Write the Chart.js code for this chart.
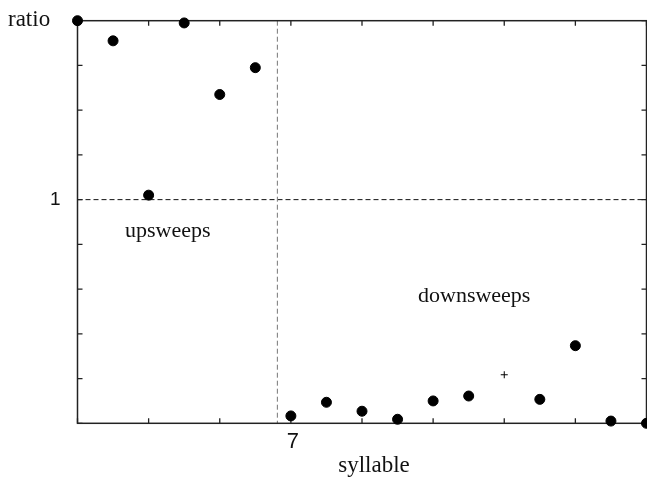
<!DOCTYPE html>
<html>
<head>
<meta charset="utf-8">
<script src="https://cdn.jsdelivr.net/npm/chart.js@4.4.0/dist/chart.umd.min.js"></script>
<style>
  html, body { margin: 0; padding: 0; background: #fff; overflow: hidden; }
  canvas { display: block; }
</style>
</head>
<body>
<canvas id="ratioChart" width="647" height="477"></canvas>
<script>
// syllable index and measured ratio
const syllables = [1, 2, 3, 4, 5, 6, 7, 8, 9, 10, 11, 12, 13, 14, 15, 16, 17];
const ratios = [1.80, 1.71, 1.02, 1.79, 1.47, 1.59, 0.033, 0.094, 0.054, 0.018, 0.10, 0.122, 0.217, 0.107, 0.347, 0.01, 0.0];
const markers = ['circle', 'circle', 'circle', 'circle', 'circle', 'circle', 'circle', 'circle', 'circle',
                 'circle', 'circle', 'circle', 'cross', 'circle', 'circle', 'circle', 'circle'];
const xTicks = [1, 3, 5, 7, 9, 11, 13, 15, 17];
const yTicks = [0, 0.2, 0.4, 0.6, 0.8, 1.0, 1.2, 1.4, 1.6, 1.8];
const xLabelled = [7];
const yLabelled = [1];
const splitSyllable = 6.62;
const splitRatio = 1;

const serif = '"Liberation Serif", "Times New Roman", serif';
const sans = '"Liberation Sans", Arial, sans-serif';

// frame, inward ticks, dashed split lines and text labels
const frame = {
  id: 'frame',
  beforeDatasetsDraw(chart) {
    const { ctx, chartArea: a, scales: { x, y } } = chart;
    ctx.save();
    // dashed lines
    ctx.lineWidth = 1;
    ctx.setLineDash([5, 3]);
    ctx.strokeStyle = '#111';
    const y1 = y.getPixelForValue(splitRatio);
    ctx.beginPath(); ctx.moveTo(a.left, y1); ctx.lineTo(a.right, y1); ctx.stroke();
    ctx.strokeStyle = '#777';
    const x1 = x.getPixelForValue(splitSyllable);
    ctx.beginPath(); ctx.moveTo(x1, a.top); ctx.lineTo(x1, a.bottom); ctx.stroke();
    ctx.setLineDash([]);

    // ticks on all four sides, pointing in
    ctx.strokeStyle = '#222';
    ctx.lineWidth = 1.3;
    const t = 5;
    ctx.beginPath();
    xTicks.forEach(v => {
      const px = x.getPixelForValue(v);
      ctx.moveTo(px, a.bottom); ctx.lineTo(px, a.bottom - t);
      ctx.moveTo(px, a.top); ctx.lineTo(px, a.top + t);
    });
    yTicks.forEach(v => {
      const py = y.getPixelForValue(v);
      ctx.moveTo(a.left, py); ctx.lineTo(a.left + t, py);
      ctx.moveTo(a.right, py); ctx.lineTo(a.right - t, py);
    });
    ctx.stroke();
    ctx.lineWidth = 1.5;
    ctx.strokeRect(a.left, a.top, a.right - a.left, a.bottom - a.top);

    // tick labels
    ctx.fillStyle = '#111';
    ctx.font = '19px ' + sans;
    ctx.textAlign = 'right';
    ctx.textBaseline = 'middle';
    yLabelled.forEach(v => ctx.fillText(String(v), a.left - 17, y.getPixelForValue(v)));
    ctx.font = '22px ' + sans;
    ctx.textAlign = 'center';
    ctx.textBaseline = 'alphabetic';
    xLabelled.forEach(v => ctx.fillText(String(v), x.getPixelForValue(v) + 2, a.bottom + 25));

    // axis names and region notes
    ctx.font = '23px ' + serif;
    ctx.textAlign = 'left';
    ctx.fillText('ratio', 8, 26);
    ctx.textAlign = 'center';
    ctx.fillText('syllable', 374, 472);
    ctx.font = '22px ' + serif;
    ctx.textAlign = 'left';
    ctx.fillText('upsweeps', 125, 237);
    ctx.fillText('downsweeps', 418, 302);
    ctx.restore();
  }
};

new Chart(document.getElementById('ratioChart'), {
  type: 'scatter',
  data: {
    datasets: [{
      label: 'ratio',
      data: syllables.map((s, i) => ({ x: s, y: ratios[i] })),
      backgroundColor: '#000',
      borderColor: '#000',
      borderWidth: 1,
      pointStyle: markers,
      pointRadius: markers.map(m => m === 'cross' ? 3.5 : 5),
      pointHoverRadius: markers.map(m => m === 'cross' ? 3.5 : 5),
      clip: false
    }]
  },
  options: {
    responsive: false,
    animation: false,
    events: [],
    layout: { autoPadding: false, padding: { top: 20.7, right: 0.5, left: 0, bottom: 0 } },
    plugins: { legend: { display: false }, tooltip: { enabled: false } },
    scales: {
      x: {
        type: 'linear', min: 1, max: 17,
        grid: { display: false, drawTicks: false },
        border: { display: false },
        ticks: { display: false },
        afterFit(scale) { scale.height = 53.7; }
      },
      y: {
        type: 'linear', min: 0, max: 1.8,
        grid: { display: false, drawTicks: false },
        border: { display: false },
        ticks: { display: false },
        afterFit(scale) { scale.width = 77.5; }
      }
    }
  },
  plugins: [frame]
});
</script>
</body>
</html>
